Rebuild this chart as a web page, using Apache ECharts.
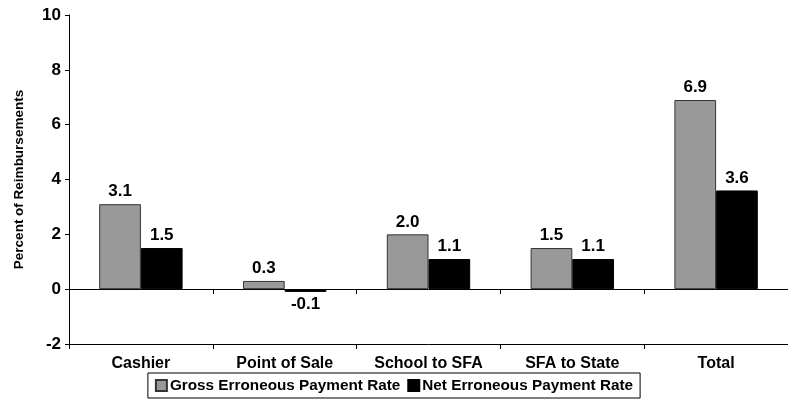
<!DOCTYPE html>
<html>
<head>
<meta charset="utf-8">
<script src="https://cdn.jsdelivr.net/npm/echarts@6/dist/echarts.min.js"></script>
<style>
  html, body { margin: 0; padding: 0; background: #fff; }
  #chart { width: 788px; height: 417px; }
</style>
</head>
<body>
<div id="chart"></div>
<script>
// Erroneous payment rates by source (percent of reimbursements)
const categories = ['Cashier', 'Point of Sale', 'School to SFA', 'SFA to State', 'Total'];
const grossRate = [3.1, 0.3, 2.0, 1.5, 6.9];
const netRate = [1.5, -0.1, 1.1, 1.1, 3.6];
const seriesNames = ['Gross Erroneous Payment Rate', 'Net Erroneous Payment Rate'];
const yTicks = { min: -2, max: 10, interval: 2 };

const FONT = '"Liberation Sans", Arial, sans-serif';

const labelStyle = {
  show: true,
  distance: 4,
  fontFamily: FONT,
  fontWeight: 'bold',
  fontSize: 17,
  color: '#000',
  formatter: (p) => p.value.toFixed(1)
};

// negative values get their label under the bar
const withLabels = (values) => values.map((v) => ({
  value: v,
  label: { position: v < 0 ? 'bottom' : 'top' }
}));

const chart = echarts.init(document.getElementById('chart'), null, { renderer: 'canvas' });

chart.setOption({
  animation: false,
  backgroundColor: '#fff',
  grid: { left: 69, top: 15, right: -9, bottom: 73, containLabel: false },
  legend: {
    bottom: 19,
    left: 'center',
    itemWidth: 11,
    itemHeight: 11,
    itemGap: 7,
    padding: [5, 7, 5, 7],
    borderColor: '#000',
    borderWidth: 1,
    borderRadius: 0,
    textStyle: { fontFamily: FONT, fontWeight: 'bold', fontSize: 15.3, color: '#000', padding: [0, 0, 0, -2] },
    data: seriesNames.map((n) => ({ name: n, icon: 'rect' }))
  },
  xAxis: [
    {
      type: 'category',
      data: categories,
      position: 'bottom',
      axisLine: { onZero: false, lineStyle: { color: '#000', width: 1 } },
      axisTick: { show: true, length: 5, lineStyle: { color: '#000' } },
      axisLabel: { fontFamily: FONT, fontWeight: 'bold', fontSize: 16, color: '#000', margin: 12 },
      splitLine: { show: false }
    },
    {
      type: 'category',
      data: categories,
      position: 'bottom',
      axisLine: { onZero: true, lineStyle: { color: '#000', width: 1 } },
      axisTick: { show: true, length: 5, lineStyle: { color: '#000' } },
      axisLabel: { show: false },
      splitLine: { show: false }
    }
  ],
  yAxis: {
    type: 'value',
    min: yTicks.min,
    max: yTicks.max,
    interval: yTicks.interval,
    name: 'Percent of Reimbursements',
    nameLocation: 'middle',
    nameGap: 43,
    nameTextStyle: { fontFamily: FONT, fontWeight: 'bold', fontSize: 13.5, color: '#000' },
    axisLine: { show: true, lineStyle: { color: '#000', width: 1 } },
    axisTick: { show: true, length: 4, lineStyle: { color: '#000' } },
    axisLabel: { fontFamily: FONT, fontWeight: 'bold', fontSize: 17, color: '#000', margin: 8 },
    splitLine: { show: false }
  },
  series: [
    {
      name: seriesNames[0],
      type: 'bar',
      xAxisIndex: 0,
      data: withLabels(grossRate),
      barGap: '0%',
      barCategoryGap: '42%',
      itemStyle: { color: '#999999', borderColor: '#333', borderWidth: 1 },
      label: labelStyle
    },
    {
      name: seriesNames[1],
      type: 'bar',
      xAxisIndex: 0,
      data: withLabels(netRate),
      barGap: '0%',
      barCategoryGap: '42%',
      itemStyle: { color: '#000', borderColor: '#000', borderWidth: 1 },
      label: labelStyle
    }
  ]
});
</script>
</body>
</html>
